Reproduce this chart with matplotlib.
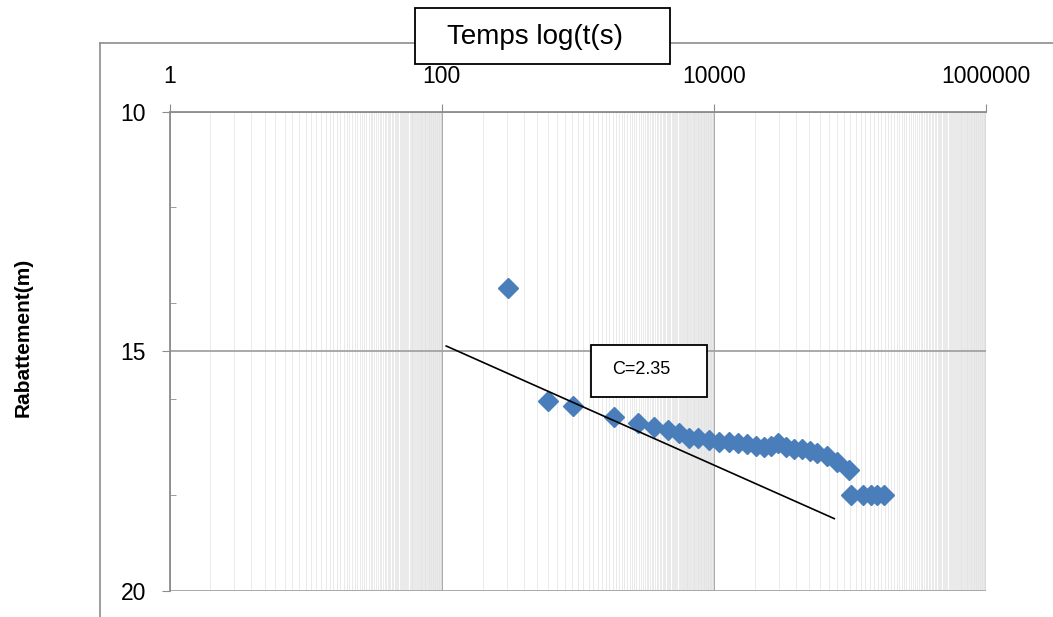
import matplotlib.pyplot as plt
from matplotlib.ticker import FixedLocator, NullFormatter
from matplotlib.lines import Line2D
from matplotlib.patches import Rectangle

plt.rcParams['font.family'] = ['Liberation Sans', 'DejaVu Sans']

# essai de pompage : temps (s) et rabattement (m)
temps = [306, 602, 919, 1840, 2760, 3620, 4590, 5530, 6550, 7630, 9190,
         10890, 12890, 15010, 17490, 20370, 23330, 26250, 29570, 33820,
         38730, 44370, 50820, 57170, 67760, 80170, 98340,
         101700, 124700, 142600, 158000, 177800]
rabattement = [13.69, 16.04, 16.15, 16.38, 16.50, 16.58, 16.65, 16.71, 16.81,
               16.81, 16.85, 16.90, 16.90, 16.92, 16.94, 16.98, 17.00, 16.98,
               16.92, 17.00, 17.04, 17.04, 17.08, 17.13, 17.19, 17.31, 17.48,
               18.0, 18.0, 18.0, 18.0, 18.0]

# droite d'ajustement (Jacob)
droite_t = [108, 76700]
droite_s = [14.89, 18.49]

x_ticks = [1, 100, 10000, 1000000]
x_labels = ['1', '100', '10000', '1000000']
y_ticks = [10, 15, 20]
y_minor = [12, 14, 16, 18]

fig = plt.figure(figsize=(10.53, 6.17), dpi=100)
ax = fig.add_axes([0.161, 0.0421, 0.7754, 0.7771])

gris = '#8c8c8c'

ax.plot(temps, rabattement, 'D', ms=10, color='#4a7ebb', zorder=4)
ax.plot(droite_t, droite_s, color='black', lw=1.2, zorder=5)

ax.set_xscale('log')
ax.set_xlim(1, 1e6)
ax.set_ylim(20, 10)

ax.xaxis.set_major_locator(FixedLocator(x_ticks))
ax.set_xticklabels(x_labels)
minor_x = [k * 10 ** e for e in (0, 2, 4) for k in range(2, 100)]
ax.xaxis.set_minor_locator(FixedLocator(minor_x))
ax.xaxis.set_minor_formatter(NullFormatter())
ax.xaxis.tick_top()

ax.set_yticks(y_ticks)
ax.yaxis.set_minor_locator(FixedLocator(y_minor))

ax.tick_params(axis='x', which='major', direction='out', length=6, color=gris,
               labelsize=16.5, pad=11)
ax.tick_params(axis='x', which='minor', length=0)
ax.tick_params(axis='y', which='major', direction='out', length=6, color=gris,
               labelsize=16.5, pad=11)
ax.tick_params(axis='y', which='minor', direction='in', length=4, color=gris)

ax.grid(which='major', color='#a3a3a3', lw=1.3)
ax.xaxis.grid(which='minor', color='#e2e2e2', lw=0.5)
ax.yaxis.grid(False, which='minor')
ax.set_axisbelow(True)

for s in ['bottom', 'right']:
    ax.spines[s].set_visible(False)
for s in ['top', 'left']:
    ax.spines[s].set_color(gris)
    ax.spines[s].set_linewidth(1.3)

ax.set_ylabel('Rabattement(m)', fontsize=15, fontweight='bold')
ax.yaxis.set_label_coords(-0.168, 0.53)

# cadre de la zone graphique
fig.add_artist(Line2D([100 / 1053, 1], [1 - 43 / 617] * 2, color=gris, lw=1.2,
                      transform=fig.transFigure))
fig.add_artist(Line2D([100 / 1053] * 2, [0, 1 - 43 / 617], color=gris, lw=1.2,
                      transform=fig.transFigure))

# titre de l'axe des temps
fig.add_artist(Rectangle((415 / 1053, 1 - 64 / 617), 255 / 1053, 56 / 617,
                         facecolor='white', edgecolor='black', lw=1.3,
                         transform=fig.transFigure, zorder=6))
fig.text(535 / 1053, 1 - 37 / 617, 'Temps log(t(s)', fontsize=20,
         ha='center', va='center', zorder=7)

# etiquette de la pente
fig.add_artist(Rectangle((591 / 1053, 1 - 397 / 617), 116 / 1053, 52 / 617,
                         facecolor='white', edgecolor='black', lw=1.3,
                         transform=fig.transFigure, zorder=6))
fig.text(641 / 1053, 1 - 370 / 617, 'C=2.35', fontsize=13,
         ha='center', va='center', zorder=7)

fig.savefig('out.png', dpi=100)
